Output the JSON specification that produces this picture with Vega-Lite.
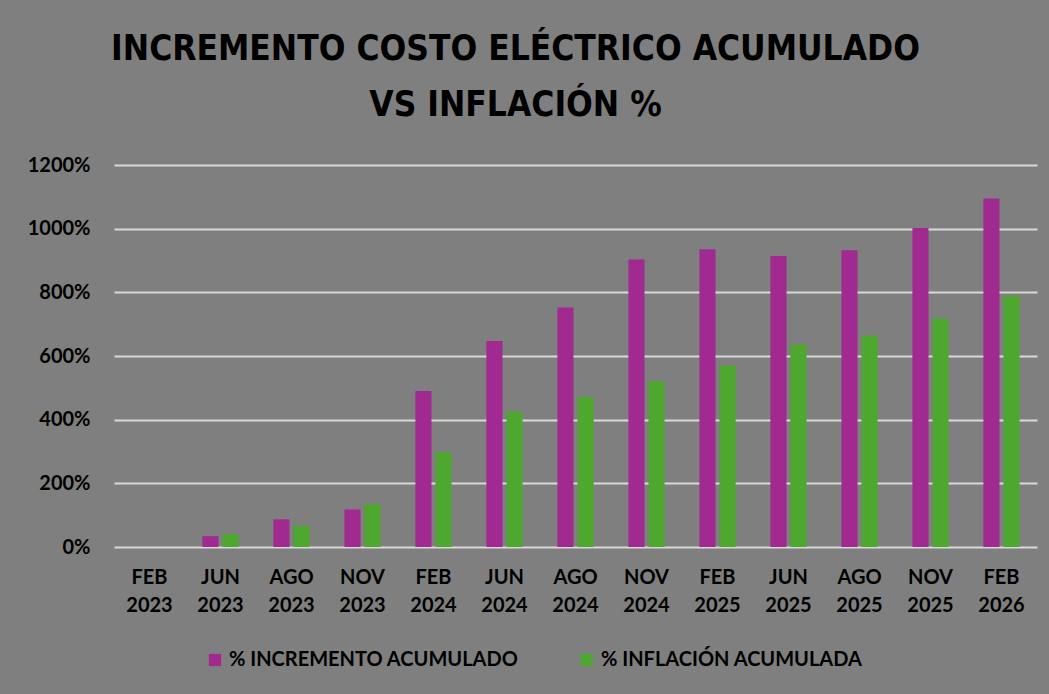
{
  "$schema": "https://vega.github.io/schema/vega-lite/v6.json",
  "width": 923,
  "height": 382,
  "autosize": {"type": "none"},
  "padding": {"left": 114, "top": 165, "right": 12, "bottom": 147},
  "background": "#7F7F7F",
  "title": {
    "text": ["INCREMENTO COSTO ELÉCTRICO ACUMULADO", "VS INFLACIÓN %"],
    "font": "Liberation Sans Narrow, DejaVu Sans Condensed, sans-serif",
    "fontSize": 35,
    "fontWeight": "bold",
    "color": "#000000",
    "anchor": "middle",
    "dx": -60,
    "offset": 32,
    "lineHeight": 56
  },
  "data": {
    "values": [
      {"periodo": "FEB 2023", "serie": "% INCREMENTO ACUMULADO", "valor": 0},
      {"periodo": "FEB 2023", "serie": "% INFLACIÓN ACUMULADA", "valor": 0},
      {"periodo": "JUN 2023", "serie": "% INCREMENTO ACUMULADO", "valor": 34},
      {"periodo": "JUN 2023", "serie": "% INFLACIÓN ACUMULADA", "valor": 41},
      {"periodo": "AGO 2023", "serie": "% INCREMENTO ACUMULADO", "valor": 87},
      {"periodo": "AGO 2023", "serie": "% INFLACIÓN ACUMULADA", "valor": 66},
      {"periodo": "NOV 2023", "serie": "% INCREMENTO ACUMULADO", "valor": 118},
      {"periodo": "NOV 2023", "serie": "% INFLACIÓN ACUMULADA", "valor": 134},
      {"periodo": "FEB 2024", "serie": "% INCREMENTO ACUMULADO", "valor": 490},
      {"periodo": "FEB 2024", "serie": "% INFLACIÓN ACUMULADA", "valor": 298},
      {"periodo": "JUN 2024", "serie": "% INCREMENTO ACUMULADO", "valor": 647},
      {"periodo": "JUN 2024", "serie": "% INFLACIÓN ACUMULADA", "valor": 426},
      {"periodo": "AGO 2024", "serie": "% INCREMENTO ACUMULADO", "valor": 752},
      {"periodo": "AGO 2024", "serie": "% INFLACIÓN ACUMULADA", "valor": 471},
      {"periodo": "NOV 2024", "serie": "% INCREMENTO ACUMULADO", "valor": 903},
      {"periodo": "NOV 2024", "serie": "% INFLACIÓN ACUMULADA", "valor": 521},
      {"periodo": "FEB 2025", "serie": "% INCREMENTO ACUMULADO", "valor": 935},
      {"periodo": "FEB 2025", "serie": "% INFLACIÓN ACUMULADA", "valor": 569},
      {"periodo": "JUN 2025", "serie": "% INCREMENTO ACUMULADO", "valor": 914},
      {"periodo": "JUN 2025", "serie": "% INFLACIÓN ACUMULADA", "valor": 636},
      {"periodo": "AGO 2025", "serie": "% INCREMENTO ACUMULADO", "valor": 932},
      {"periodo": "AGO 2025", "serie": "% INFLACIÓN ACUMULADA", "valor": 664},
      {"periodo": "NOV 2025", "serie": "% INCREMENTO ACUMULADO", "valor": 1002},
      {"periodo": "NOV 2025", "serie": "% INFLACIÓN ACUMULADA", "valor": 718},
      {"periodo": "FEB 2026", "serie": "% INCREMENTO ACUMULADO", "valor": 1095},
      {"periodo": "FEB 2026", "serie": "% INFLACIÓN ACUMULADA", "valor": 789}
    ]
  },
  "mark": {"type": "bar"},
  "encoding": {
    "x": {
      "field": "periodo",
      "type": "nominal",
      "sort": null,
      "scale": {"paddingInner": 0.49, "paddingOuter": 0.245},
      "axis": {
        "title": null,
        "labelAngle": 0,
        "labelExpr": "split(datum.label, ' ')",
        "labelFont": "Lato",
        "labelFontSize": 20,
        "labelFontWeight": "bold",
        "labelColor": "#000000",
        "labelLineHeight": 28,
        "labelPadding": 20,
        "domain": false,
        "ticks": false,
        "grid": false
      }
    },
    "xOffset": {
      "field": "serie",
      "type": "nominal",
      "sort": ["% INCREMENTO ACUMULADO", "% INFLACIÓN ACUMULADA"],
      "scale": {"paddingInner": 0.2, "paddingOuter": 0}
    },
    "y": {
      "field": "valor",
      "type": "quantitative",
      "scale": {"domain": [0, 1200], "nice": false},
      "axis": {
        "title": null,
        "values": [0, 200, 400, 600, 800, 1000, 1200],
        "labelExpr": "datum.value + '%'",
        "labelFont": "Lato",
        "labelFontSize": 20,
        "labelFontWeight": "bold",
        "labelColor": "#000000",
        "labelPadding": 24,
        "domain": false,
        "ticks": false,
        "grid": true,
        "gridColor": "#D9D9D9",
        "gridWidth": 2,
        "gridOpacity": 1
      }
    },
    "color": {
      "field": "serie",
      "type": "nominal",
      "sort": ["% INCREMENTO ACUMULADO", "% INFLACIÓN ACUMULADA"],
      "scale": {
        "domain": ["% INCREMENTO ACUMULADO", "% INFLACIÓN ACUMULADA"],
        "range": ["#A02A90", "#4EA72E"]
      },
      "legend": {
        "title": null,
        "orient": "none",
        "direction": "horizontal",
        "legendX": 91,
        "legendY": 485,
        "symbolType": "square",
        "symbolSize": 150,
        "symbolStrokeWidth": 0,
        "symbolOpacity": 1,
        "labelFont": "Lato",
        "labelFontSize": 20,
        "labelFontWeight": "bold",
        "labelColor": "#000000",
        "labelLimit": 400,
        "labelOffset": 4,
        "columnPadding": 58
      }
    }
  },
  "config": {
    "view": {"stroke": null}
  }
}
